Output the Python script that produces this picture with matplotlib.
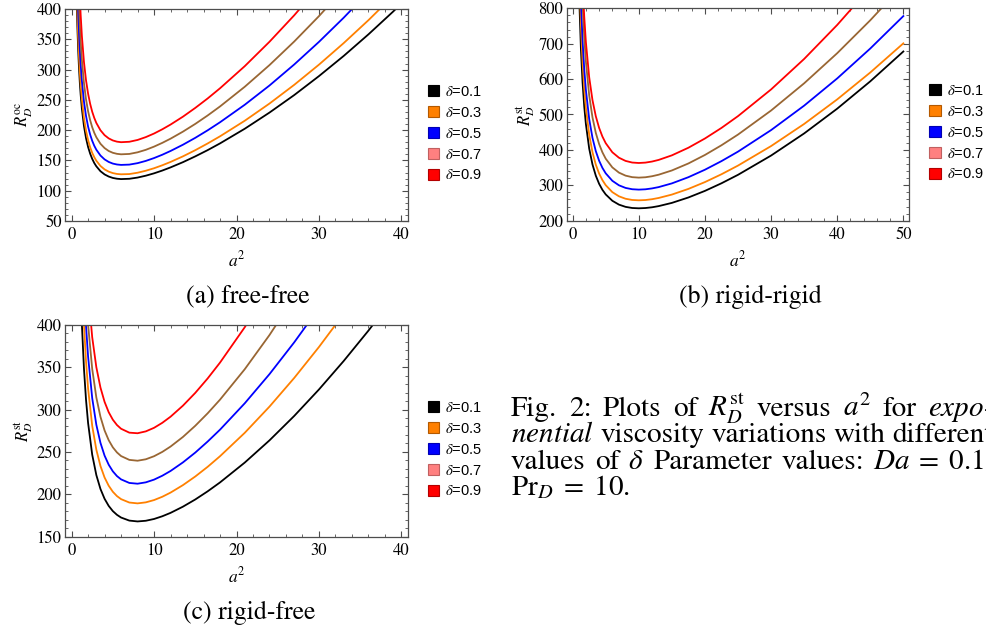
import matplotlib.pyplot as plt
from matplotlib.patches import Patch
from matplotlib.ticker import MultipleLocator

plt.rcParams['font.family'] = 'STIXGeneral'
plt.rcParams['mathtext.fontset'] = 'stix'

# delta values and colours (legend swatch for 0.7 is pink, its curve is brown)
deltas = ['0.1', '0.3', '0.5', '0.7', '0.9']
line_colors = ['black', '#ff8000', '#0000ff', '#996633', '#ff0000']
swatch_colors = ['black', '#ff8000', '#0000ff', '#ff8080', '#ff0000']
swatch_edges = ['black', '#b35900', '#0000b3', '#c06060', '#b30000']

# (a) free-free
a2_ff = [0.6, 0.7, 0.8, 0.9, 1, 1.1, 1.25, 1.5, 1.75, 2, 2.25, 2.5, 2.75, 3, 3.5, 4, 4.5, 5, 5.5, 6,
         7, 8, 9, 10, 11, 12, 13.5, 15, 16.5, 18, 21, 24, 27, 30, 33, 36, 39, 42]
ff_01 = [423.4, 371.3, 332.3, 302.1, 278.0, 258.4, 235.0, 206.7, 186.8, 172.2, 161.2, 152.6, 145.7,
         140.3, 132.2, 126.9, 123.4, 121.1, 119.8, 119.2, 119.7, 121.7, 124.8, 128.7, 133.3, 138.5,
         147.1, 156.7, 167.0, 178.1, 202.3, 229.0, 257.9, 289.2, 322.5, 358.1, 395.8, 435.5]
ff_03 = [451.1, 395.6, 354.1, 321.9, 296.2, 275.3, 250.4, 220.2, 199.1, 183.5, 171.7, 162.5, 155.3,
         149.5, 140.9, 135.2, 131.5, 129.1, 127.7, 127.1, 127.5, 129.7, 133.0, 137.1, 142.0, 147.5,
         156.7, 166.9, 178.0, 189.8, 215.5, 243.9, 274.8, 308.1, 343.7, 381.5, 421.7]
ff_05 = [506.2, 443.9, 397.3, 361.2, 332.4, 308.9, 281.0, 247.1, 223.4, 205.9, 192.7, 182.4, 174.2,
         167.7, 158.1, 151.7, 147.5, 144.8, 143.3, 142.6, 143.1, 145.5, 149.2, 153.9, 159.4, 165.6,
         175.9, 187.3, 199.7, 213.0, 241.9, 273.7, 308.4, 345.7, 385.6, 428.1]
ff_07 = [568.4, 498.4, 446.1, 405.6, 373.2, 346.9, 315.5, 277.5, 250.8, 231.2, 216.4, 204.8, 195.6,
         188.3, 177.5, 170.4, 165.6, 162.6, 160.9, 160.1, 160.7, 163.4, 167.5, 172.8, 179.0, 185.9,
         197.5, 210.3, 224.2, 239.1, 271.6, 307.4, 346.3, 388.2, 433.0]
ff_09 = [639.6, 560.9, 502.0, 456.4, 420.0, 390.4, 355.0, 312.3, 282.3, 260.2, 243.5, 230.4, 220.2,
         211.9, 199.8, 191.7, 186.4, 183.0, 181.0, 180.1, 180.8, 183.8, 188.5, 194.4, 201.4, 209.2,
         222.2, 236.7, 252.3, 269.1, 305.6, 345.9, 389.6, 436.8]

# (b) rigid-rigid
a2_rr = [1, 1.25, 1.5, 1.75, 2, 2.5, 3, 3.5, 4, 4.5, 5, 6, 7, 8, 9, 10, 11, 12, 13, 15, 17.5, 20,
         22.5, 25, 30, 35, 40, 45, 50]
rr_01 = [826.6, 684.4, 590.0, 522.9, 473.0, 403.8, 358.7, 327.2, 304.3, 287.2, 274.2, 256.3, 245.4,
         239.1, 235.9, 235.0, 235.8, 237.9, 241.2, 250.3, 265.6, 284.2, 305.7, 329.6, 384.0, 446.5,
         516.5, 593.7, 678.0]
rr_03 = [910.3, 753.0, 648.6, 574.5, 519.3, 442.9, 393.1, 358.4, 333.3, 314.6, 300.3, 280.7, 268.9,
         262.0, 258.6, 257.6, 258.4, 260.7, 264.2, 273.8, 289.8, 309.1, 331.2, 355.7, 410.8, 473.3,
         542.7, 618.7, 701.0]
rr_05 = [989.7, 820.7, 708.5, 628.8, 569.5, 487.4, 433.8, 396.5, 369.5, 349.2, 333.8, 312.7, 300.0,
         292.6, 288.9, 287.8, 288.7, 291.2, 294.9, 305.4, 322.9, 344.0, 368.3, 395.1, 455.9, 525.0,
         601.9, 686.4, 778.0]
rr_07 = [1141.5, 943.8, 812.6, 719.5, 650.1, 554.2, 491.6, 448.1, 416.6, 393.1, 375.1, 350.6, 335.8,
         327.3, 323.0, 321.7, 322.7, 325.6, 329.9, 341.9, 361.7, 385.7, 413.1, 443.3, 511.2, 588.1,
         673.2, 766.2, 866.8]
rr_09 = [1213.9, 1009.1, 873.2, 776.7, 704.8, 605.3, 540.3, 495.1, 462.3, 437.7, 419.0, 393.3, 377.9,
         368.9, 364.3, 363.0, 364.1, 367.1, 371.7, 384.6, 406.1, 432.2, 462.1, 495.4, 570.8, 656.9,
         753.0, 858.7]

# (c) rigid-free
a2_rf = [1, 1.25, 1.5, 1.75, 2, 2.5, 3, 3.5, 4, 4.5, 5, 5.5, 6, 7, 8, 9, 10, 11, 12, 13.5, 15, 16.5,
         18, 21, 24, 27, 30, 33, 36, 39]
rf_01 = [478.5, 400.0, 348.1, 311.3, 284.1, 246.7, 222.7, 206.3, 194.7, 186.3, 180.2, 175.8, 172.6,
         169.0, 168.0, 168.8, 170.9, 174.1, 178.1, 185.4, 193.9, 203.5, 214.0, 237.4, 263.6, 292.4,
         323.6, 357.2, 393.0, 431.0]
rf_03 = [553.6, 461.1, 400.0, 356.7, 324.7, 280.8, 252.6, 233.4, 219.8, 210.1, 203.0, 197.9, 194.3,
         190.3, 189.3, 190.5, 193.2, 197.1, 202.0, 210.8, 221.0, 232.4, 244.9, 272.5, 303.4, 337.2,
         373.7, 412.8]
rf_05 = [618.8, 515.2, 446.7, 398.3, 362.5, 313.4, 282.0, 260.7, 245.6, 234.9, 227.1, 221.5, 217.6,
         213.4, 212.5, 214.1, 217.3, 221.9, 227.5, 237.6, 249.2, 262.2, 276.2, 307.3, 341.7, 379.2,
         419.6]
rf_07 = [672.1, 562.2, 489.5, 438.1, 400.0, 347.8, 314.2, 291.4, 275.3, 263.8, 255.4, 249.4, 245.1,
         240.6, 239.6, 241.3, 244.9, 250.0, 256.3, 267.6, 280.8, 295.5, 311.6, 347.5, 387.8, 432.2]
rf_09 = [726.0, 610.5, 534.2, 480.1, 440.1, 385.2, 349.9, 325.9, 309.0, 296.8, 288.0, 281.7, 277.3,
         272.7, 272.0, 274.2, 278.4, 284.3, 291.5, 304.5, 319.6, 336.6, 355.3, 397.0, 444.2]

# caption text, one list of words per line (justified, runs off the right edge like the original)
caption_lines = [
    ['Fig.', '2:', 'Plots', 'of', r'$R_D^{\mathrm{st}}$', 'versus', r'$a^2$', 'for', r'$\mathit{expo}$-'],
    [r'$\mathit{nential}$', 'viscosity', 'variations', 'with', 'different'],
    ['values', 'of', r'$\delta$', 'Parameter', 'values:', r'$Da\;=\;0.1$,'],
]
caption_last = r'$\mathrm{Pr}_D\;=\;10.$'

W, H = 986, 632


def panel(fig, rect, x, curves, xlim, ylim, xstep, ystep, ylabel, caption, cap_xy, leg_xy):
    ax = fig.add_axes(rect)
    for vals, col in zip(curves, line_colors):
        ax.plot(x[:len(vals)], vals, color=col, lw=1.3)
    ax.set_xlim(xlim)
    ax.set_ylim(ylim)
    ax.xaxis.set_major_locator(MultipleLocator(xstep))
    ax.xaxis.set_minor_locator(MultipleLocator(xstep / 5))
    ax.yaxis.set_major_locator(MultipleLocator(ystep))
    ax.yaxis.set_minor_locator(MultipleLocator(ystep / 5))
    ax.tick_params(which='both', direction='in', top=True, right=True,
                   labelsize=12, color='0.3')
    ax.tick_params(axis='x', pad=4.5)
    ax.tick_params(axis='y', pad=2.5)
    ax.tick_params(which='major', length=4, width=0.8)
    ax.tick_params(which='minor', length=2, width=0.6)
    for s in ax.spines.values():
        s.set_color('0.3')
        s.set_linewidth(0.9)
    ax.set_xlabel(r'$a^2$', fontsize=12.5, labelpad=5)
    ax.set_ylabel(ylabel, fontsize=12, labelpad=1)
    fig.text(cap_xy[0] / W, 1 - cap_xy[1] / H, caption, fontsize=18.5, ha='center', va='center')
    handles = [Patch(facecolor=c, edgecolor=e, lw=0.8) for c, e in zip(swatch_colors, swatch_edges)]
    labels = [r'$\delta$=' + d for d in deltas]
    leg = ax.legend(handles, labels, loc='upper left',
                    bbox_to_anchor=(leg_xy[0] / W, 1 - leg_xy[1] / H),
                    bbox_transform=fig.transFigure, frameon=False, fontsize=10.5,
                    handlelength=0.78, handleheight=0.78, handletextpad=0.4,
                    labelspacing=0.47, borderpad=0, borderaxespad=0)
    for t in leg.get_texts():
        t.set_family('Liberation Sans')
    return ax


fig = plt.figure(figsize=(9.86, 6.32), dpi=100)

panel(fig, [65 / W, 1 - 221 / H, 343 / W, 212 / H], a2_ff, [ff_01, ff_03, ff_05, ff_07, ff_09],
      (-0.8, 40.8), (50, 400), 10, 50, r'$R_D^{\mathrm{oc}}$', '(a) free-free',
      (248, 296.7), (427.5, 85))
panel(fig, [566.7 / W, 1 - 220.7 / H, 342.6 / W, 212.4 / H], a2_rr, [rr_01, rr_03, rr_05, rr_07, rr_09],
      (-0.9, 50.9), (200, 800), 10, 100, r'$R_D^{\mathrm{st}}$', '(b) rigid-rigid',
      (750, 296.7), (929.3, 84))
panel(fig, [65 / W, 1 - 536.7 / H, 343 / W, 212 / H], a2_rf, [rf_01, rf_03, rf_05, rf_07, rf_09],
      (-0.8, 40.8), (150, 400), 10, 50, r'$R_D^{\mathrm{st}}$', '(c) rigid-free',
      (249, 613.3), (427.5, 401))

# justified caption on the right: words spread between left and right margin
renderer = fig.canvas.get_renderer()
left_px, right_px = 511, 993
base_y = [416, 442.5, 469]
for words, y in zip(caption_lines, base_y):
    texts = [fig.text(0, 1 - y / H, w, fontsize=21, ha='left', va='baseline') for w in words]
    widths = [t.get_window_extent(renderer).width for t in texts]
    gap = (right_px - left_px - sum(widths)) / (len(words) - 1)
    xpos = left_px
    for t, w in zip(texts, widths):
        t.set_x(xpos / W)
        xpos += w + gap
fig.text(left_px / W, 1 - 495.5 / H, caption_last, fontsize=21, ha='left', va='baseline')

fig.savefig('out.png', dpi=100)
